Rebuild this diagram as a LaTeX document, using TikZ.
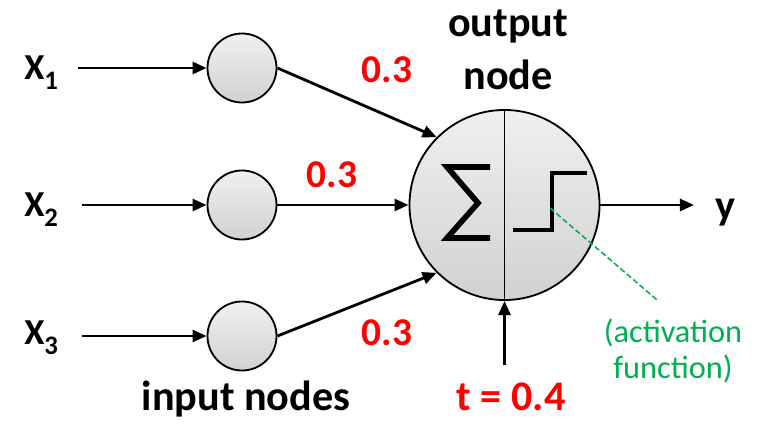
\documentclass[tikz,border=0pt]{standalone}
\usepackage{fontspec}
\setmainfont{Carlito}
\usepackage{tikz}
\usetikzlibrary{arrows.meta,calc}
\definecolor{wred}{HTML}{FF0000}
\definecolor{actgreen}{HTML}{00B050}
\tikzset{
  inode/.style={circle,draw=black,line width=1.3pt,minimum size=1.725cm,inner sep=0pt,top color=black!6,bottom color=black!18},
  onode/.style={circle,draw=black,line width=1.3pt,minimum size=4.75cm,inner sep=0pt,top color=black!6,bottom color=black!18},
  conn/.style={line width=2pt,-{Triangle[length=10pt,width=8.5pt]}},
  wlab/.style={font=\fontsize{28}{30}\selectfont\bfseries,text=wred,anchor=base},
  blab/.style={font=\fontsize{30}{38}\selectfont\bfseries,align=center},
  xlab/.style={font=\fontsize{26}{28}\selectfont\bfseries,anchor=base west,inner sep=0pt},
  glyph/.style={line width=4pt,miter limit=10}
}
\newcommand{\xsub}[1]{X\raisebox{-7.8pt}{\fontsize{19}{19}\selectfont #1}}

\begin{document}
\begin{tikzpicture}[x=0.025cm,y=-0.025cm]
\useasboundingbox (0,0) rectangle (760,427);
% inputs
\foreach \i/\yy/\xs/\xb in {1/68/78/79,2/205/82/216,3/336/82/344}{
  \node[inode] (in\i) at (242,\yy){};
  \node[xlab] (x\i) at (24,\xb){\xsub{\i}};
  \coordinate (s\i) at (\xs,\yy);
  \draw[conn] (s\i) -- (in\i);
}
% output node
\node[onode] (out) at (504.5,205){};
\draw[line width=1.4pt] (out.north) -- (out.south);
\draw[conn] (in1.east) -- (out.135);
\draw[conn] (in2) -- (out);
\draw[conn] (in3.east) -- (out.225);
\draw[glyph] (490,167) -- (447,167) -- (478,203) -- (447,238) -- (490,238);
\draw[glyph,line width=3.5pt] (513,230) -- (552,230) -- (552,173) -- (587,173);
\coordinate (sdot) at (550,208);
% output and threshold
\coordinate (yend) at (694,205);
\draw[conn] (out) -- (yend);
\node[blab,anchor=base] (ylab) at (725,219){y};
\coordinate (tstart) at (504.5,365);
\draw[conn] (tstart) -- (out);
\node[blab,text=wred,anchor=base] (tlab) at (511,410){t = 0.4};
% weights
\node[wlab] (w1) at (387,82){0.3};
\node[wlab] (w2) at (332,187){0.3};
\node[wlab] (w3) at (387,345){0.3};
\node[blab] (olab) at (508,50){output\\node};
\node[blab,anchor=base] (ilab) at (246,410){input nodes};
\node[font=\fontsize{23}{26}\selectfont,text=actgreen,align=center] (act) at (673,351){(activation\\function)};
\draw[actgreen,line width=1.1pt,dash pattern=on 4pt off 2pt,shorten >=14pt] (sdot) -- (act.north);
\end{tikzpicture}
\end{document}
